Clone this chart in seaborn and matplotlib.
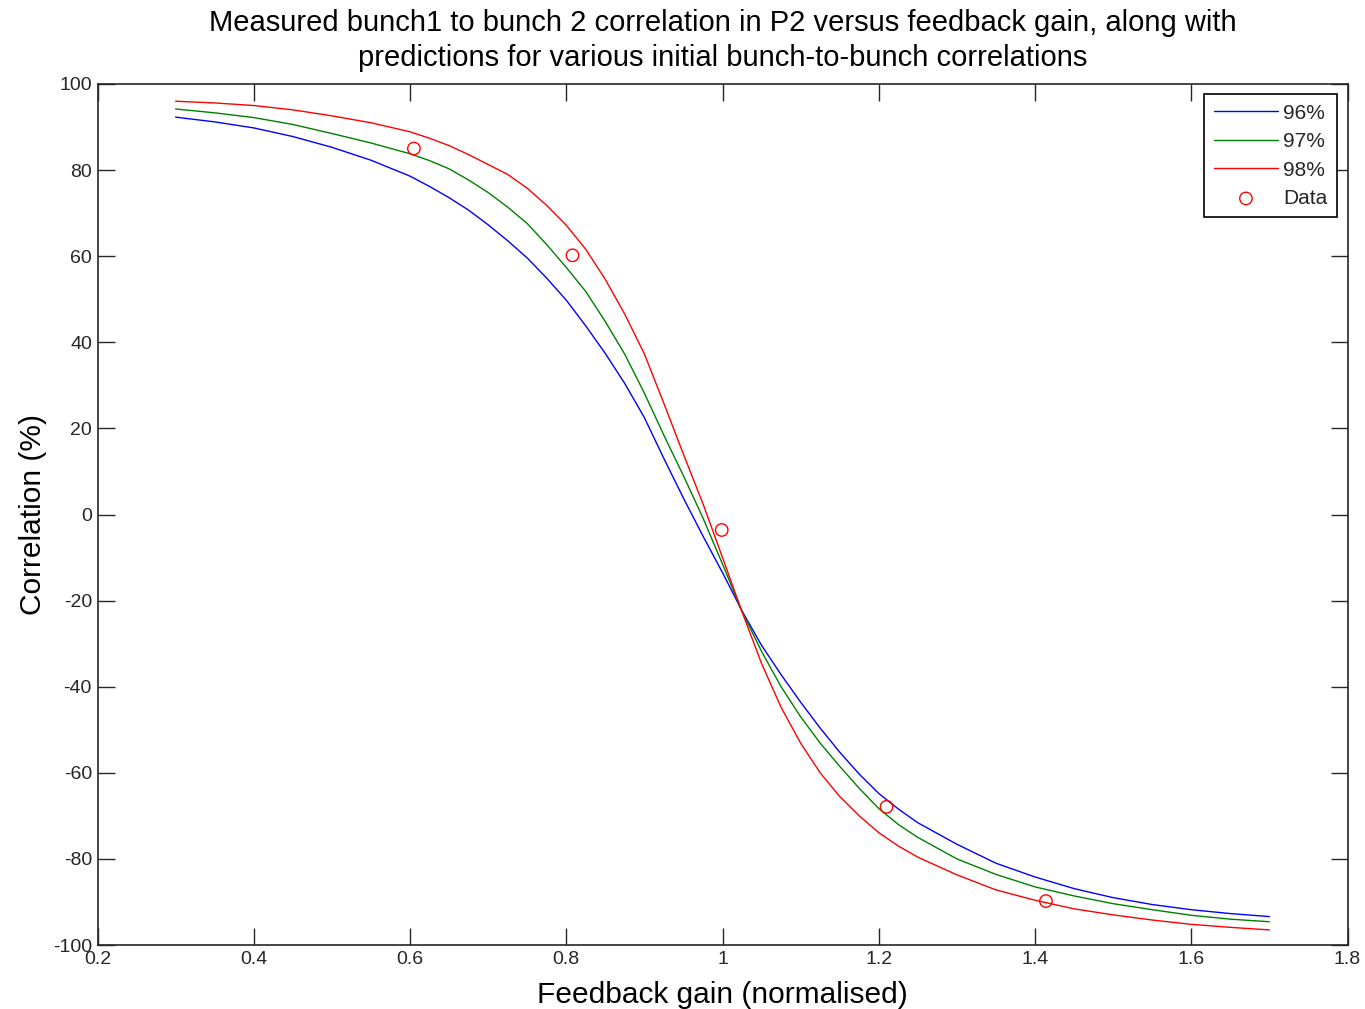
import numpy as np
import pandas as pd
import matplotlib
matplotlib.use("Agg")
import matplotlib.pyplot as plt
import seaborn as sns

# ---- data ----
gain = [0.30, 0.35, 0.40, 0.45, 0.50, 0.55, 0.60, 0.625, 0.65, 0.675,
        0.70, 0.725, 0.75, 0.775, 0.80, 0.825, 0.85, 0.875, 0.90, 0.925,
        0.95, 0.975, 1.00, 1.025, 1.05, 1.075, 1.10, 1.125, 1.15, 1.175,
        1.20, 1.225, 1.25, 1.30, 1.35, 1.40, 1.45, 1.50, 1.55, 1.60,
        1.65, 1.70]

corr_96 = [92.3, 91.2, 89.8, 87.8, 85.3, 82.3, 78.6, 76.2, 73.6, 70.7,
           67.3, 63.6, 59.6, 54.9, 49.8, 43.8, 37.4, 30.4, 22.5, 13.0,
           3.8, -5.0, -13.5, -22.4, -30.4, -37.2, -43.6, -49.6, -55.2, -60.3,
           -64.8, -68.4, -71.6, -76.6, -81.0, -84.2, -86.9, -89.0, -90.6, -91.8,
           -92.7, -93.4]

corr_97 = [94.2, 93.3, 92.2, 90.6, 88.5, 86.3, 83.8, 82.2, 80.3, 77.7,
           74.8, 71.4, 67.6, 62.7, 57.4, 51.8, 44.8, 37.2, 28.2, 18.4,
           9.0, -0.8, -11.5, -22.5, -31.8, -40.0, -47.0, -53.1, -58.5, -63.6,
           -68.3, -72.0, -75.0, -80.0, -83.6, -86.5, -88.6, -90.4, -91.8, -93.1,
           -94.0, -94.6]

corr_98 = [96.0, 95.6, 95.0, 94.0, 92.6, 91.0, 88.9, 87.4, 85.7, 83.6,
           81.3, 79.0, 75.8, 71.8, 67.2, 61.6, 54.6, 46.5, 37.3, 25.8,
           14.0, 2.5, -10.0, -22.6, -34.6, -44.8, -53.1, -60.0, -65.5, -70.0,
           -73.9, -77.0, -79.6, -83.7, -87.2, -89.6, -91.6, -93.0, -94.2, -95.2,
           -95.9, -96.5]

series_labels = ["96%", "97%", "98%"]
series_colors = ["#0000ff", "#008000", "#ff0000"]

data_gain = [0.605, 0.808, 0.999, 1.210, 1.414]
data_corr = [85.0, 60.2, -3.6, -67.9, -89.8]

x_ticks = [0.2, 0.4, 0.6, 0.8, 1.0, 1.2, 1.4, 1.6, 1.8]
x_tick_labels = ["0.2", "0.4", "0.6", "0.8", "1", "1.2", "1.4", "1.6", "1.8"]
y_ticks = [-100, -80, -60, -40, -20, 0, 20, 40, 60, 80, 100]

title = ("Measured bunch1 to bunch 2 correlation in P2 versus feedback gain, along with\n"
         "predictions for various initial bunch-to-bunch correlations")
xlabel = "Feedback gain (normalised)"
ylabel = "Correlation (%)"

# ---- build long table ----
frames = []
for lab, vals in zip(series_labels, [corr_96, corr_97, corr_98]):
    frames.append(pd.DataFrame({"gain": gain, "corr": vals, "series": lab}))
df = pd.concat(frames, ignore_index=True)
df_pts = pd.DataFrame({"gain": data_gain, "corr": data_corr})

sns.set_theme(style="white")
plt.rcParams["font.family"] = ["Liberation Sans", "DejaVu Sans"]
plt.rcParams["axes.unicode_minus"] = False
plt.rcParams["xtick.direction"] = "in"
plt.rcParams["ytick.direction"] = "in"

fig = plt.figure(figsize=(13.65, 10.09), dpi=100)
ax = fig.add_axes([97.5 / 1365, 1 - 945 / 1009, 1250 / 1365, 861 / 1009])

sns.lineplot(data=df, x="gain", y="corr", hue="series",
             palette=dict(zip(series_labels, series_colors)),
             linewidth=1.0, ax=ax, sort=False, estimator=None)
sns.scatterplot(data=df_pts, x="gain", y="corr", ax=ax, marker="o",
                s=80, facecolor="none", edgecolor="#ff0000", linewidth=1.0,
                label="Data", zorder=5)

ax.set_xlim(0.2, 1.8)
ax.set_ylim(-100, 100)
ax.set_xticks(x_ticks)
ax.set_xticklabels(x_tick_labels)
ax.set_yticks(y_ticks)
ax.tick_params(axis="both", which="both", direction="in", length=12, width=1,
               color="#262626", labelsize=14, top=True, right=True,
               bottom=True, left=True, pad=4, labelcolor="#262626")
for sp in ax.spines.values():
    sp.set_color("#262626")
    sp.set_linewidth(1.2)

ax.set_xlabel(xlabel, fontsize=21.5, color="black", labelpad=10)
ax.set_ylabel(ylabel, fontsize=21.5, color="black", labelpad=4)
ax.set_title(title, fontsize=21, color="black", pad=13, linespacing=1.3)

leg = ax.legend(loc="upper right", fontsize=15, frameon=True, fancybox=False,
                edgecolor="black", handlelength=3.1, handletextpad=0.25,
                borderpad=0.45, labelspacing=0.45, borderaxespad=0.5,
                framealpha=1, markerfirst=True)
leg.get_frame().set_linewidth(1.2)

fig.savefig("out.png", dpi=100, facecolor="white")
